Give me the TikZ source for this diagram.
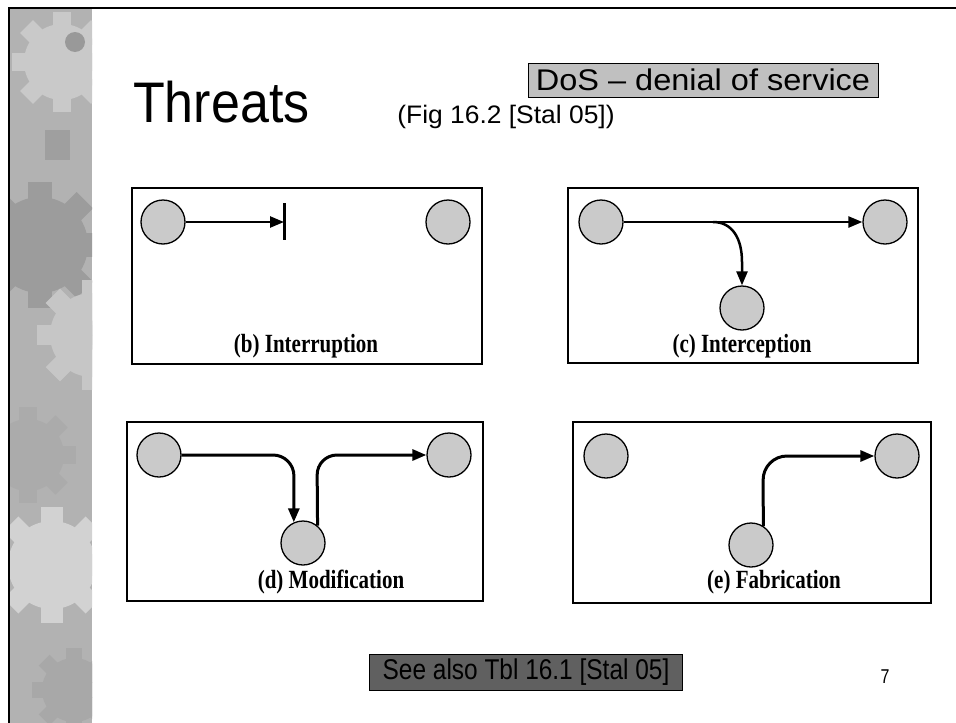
\documentclass[tikz,border=0pt]{standalone}
\usepackage{fontspec}
\setmainfont{Liberation Serif}
\newfontfamily\arialfont{Liberation Sans}
\usetikzlibrary{arrows.meta}
\definecolor{hostgray}{HTML}{CACACA}
\definecolor{notegray}{HTML}{C0C0C0}
\definecolor{darknote}{HTML}{606060}
\definecolor{stripbase}{HTML}{B2B2B2}

% a simple eight-toothed gear for the textured side strip
\newcommand\stripgear[4]{%
  \begin{scope}[shift={(#1,#2)}]
    \fill[#4] (0,0) circle (#3);
    \foreach \a in {0,45,...,315}
      \fill[#4,rotate=\a] (-0.24*#3,0) rectangle (0.24*#3,1.32*#3);
  \end{scope}}

\begin{document}
\begin{tikzpicture}[x=1pt,y=-1pt,
  host/.style={circle,draw=black,line width=1.3pt,fill=hostgray,
               minimum size=44pt,inner sep=0pt},
  panel/.style={draw=black,line width=1.3pt,inner sep=0pt},
  flow/.style={line width=2.5pt,-{Triangle[length=14pt,width=11pt]}},
  flowd/.style={line width=3pt,-{Triangle[length=14pt,width=11pt]}},
  caption/.style={inner sep=0pt}]

\newcommand\captext[1]{\scalebox{1}[1.25]{\bfseries\fontsize{21}{25}\selectfont #1}}

\useasboundingbox (0,0) rectangle (956,723);
\fill[white] (0,0) rectangle (956,723);

% textured side strip
\begin{scope}
  \clip (10,9) rectangle (92,723);
  \fill[stripbase] (10,9) rectangle (92,723);
  \stripgear{62}{62}{38}{gray!42}
  \fill[gray!80] (75,42) circle (10);
  \fill[gray!75] (45,130) rectangle (70,160);
  \stripgear{40}{245}{48}{gray!78}
  \stripgear{92}{335}{42}{gray!45}
  \stripgear{28}{455}{36}{gray!66}
  \stripgear{52}{565}{44}{gray!35}
  \stripgear{74}{690}{32}{gray!68}
\end{scope}

% slide frame
\draw[line width=2.4pt] (9,723) -- (9,8) -- (956,8);

% title and notes
\node[anchor=base west,inner sep=0pt] (title) at (133,122)
  {\scalebox{1}[1.1]{\arialfont\fontsize{52}{60}\selectfont Threats}};
\node[draw=black,line width=0.8pt,fill=notegray,minimum width=350pt,
      minimum height=34pt,inner sep=0pt] (dos) at (703,80)
  {\scalebox{1.25}[1.15]{\arialfont\fontsize{26}{30}\selectfont DoS – denial of service}};
\node[inner sep=0pt] (fig) at (506,117)
  {\scalebox{1.2}[1.15]{\arialfont\fontsize{22}{26}\selectfont (Fig 16.2 [Stal 05])}};
\node[draw=black,line width=1pt,fill=darknote,minimum width=313pt,
      minimum height=36pt,inner sep=0pt] (see) at (526,672.5)
  {\scalebox{0.94}[1.1]{\arialfont\fontsize{26}{30}\selectfont See also Tbl 16.1 [Stal 05]}};
\node[inner sep=0pt] (pageno) at (885,677)
  {\scalebox{0.8}[1]{\arialfont\fontsize{20}{24}\selectfont 7}};

% (b) interruption
\node[panel,minimum width=350pt,minimum height=176pt] (pb) at (307,276) {};
\node[host] (ba) at (163,222) {};
\node[host] (bb) at (448,222) {};
\coordinate (cut) at (284,222);
\draw[flow] (ba) -- (cut);
\draw[line width=3pt] (284,203) -- (284,240);
\node[caption] (bcap) at (306,346) {\captext{(b) Interruption}};

% (c) interception
\node[panel,minimum width=350pt,minimum height=175pt] (pc) at (743,275.5) {};
\node[host] (ca) at (601,222) {};
\node[host] (cb) at (885,222) {};
\node[host] (cm) at (742,308) {};
\coordinate (tap) at (713,222);
\draw[flow] (ca) -- (cb);
\draw[flow] (tap) .. controls (732,222) and (742,238) .. (742,262) -- (cm.north);
\node[caption] (ccap) at (742,346) {\captext{(c) Interception}};

% (d) modification
\node[panel,minimum width=356pt,minimum height=179pt] (pd) at (305,511.5) {};
\node[host] (da) at (159,455) {};
\node[host] (db) at (449,455) {};
\node[host] (dm) at (303,543) {};
\draw[flowd,rounded corners=21pt] (da.east) -- (294,455) -- (dm.114);
\draw[flowd,rounded corners=20pt] (dm.50) -- (317,455) -- (db.west);
\node[caption] (dcap) at (331,582) {\captext{(d) Modification}};

% (e) fabrication
\node[panel,minimum width=358pt,minimum height=181pt] (pe) at (752,512.5) {};
\node[host] (ea) at (606,456) {};
\node[host] (eb) at (897,456) {};
\node[host] (em) at (751,545) {};
\draw[flowd,rounded corners=24pt] (em.57) -- (763,456) -- (eb.west);
\node[caption] (ecap) at (774,582) {\captext{(e) Fabrication}};

\end{tikzpicture}
\end{document}
